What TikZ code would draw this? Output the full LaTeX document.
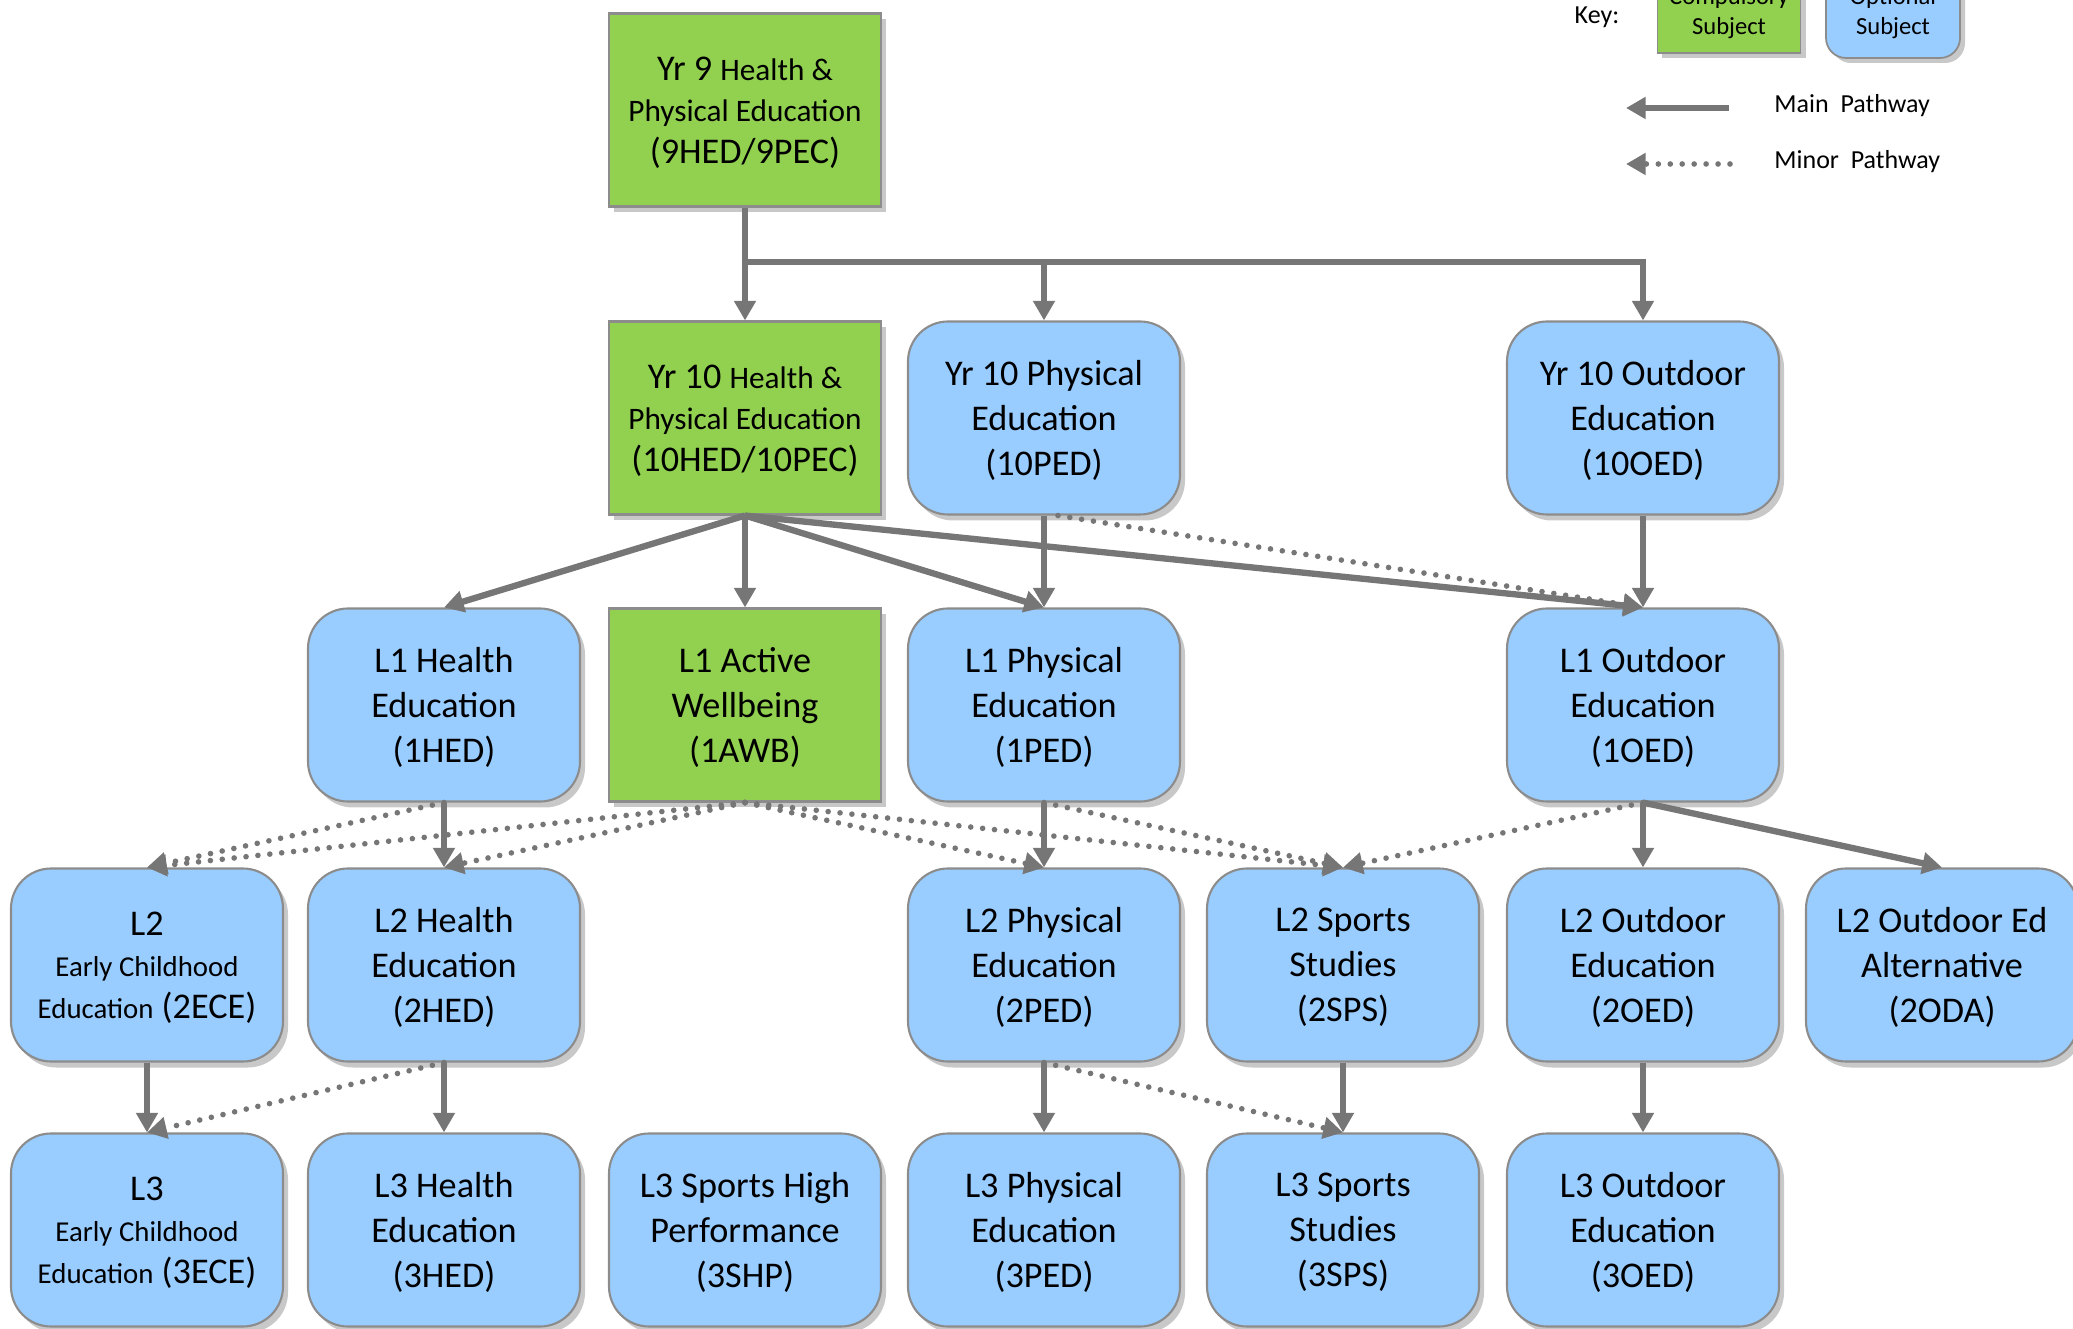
\documentclass[tikz,border=0pt]{standalone}
\usepackage{fontspec}
\setmainfont{Carlito}
\usepackage{xcolor}
\usepackage{tikz}
\usetikzlibrary{arrows.meta,shadows}
\definecolor{greenx}{HTML}{92D050}
\definecolor{bluex}{HTML}{99CCFF}
\definecolor{edgex}{HTML}{8C8C8C}
\definecolor{shadex}{HTML}{C8C8C8}
\definecolor{arrowx}{HTML}{767676}
\newcommand{\smtxt}{\fontsize{8.9}{11.8}\selectfont}
\newcommand{\ecetxt}{\fontsize{8.2}{11.8}\selectfont}
\tikzset{
  subj/.style={draw=edgex,line width=0.6pt,minimum width=2.72cm,minimum height=1.93cm,align=center,inner sep=2pt,
    font=\fontsize{10.3}{12.8}\selectfont,text depth=0pt,
    drop shadow={shadow xshift=0.05cm,shadow yshift=-0.06cm,fill=shadex,opacity=1}},
  comp/.style={subj,fill=greenx},
  opt/.style={subj,fill=bluex,rounded corners=0.4cm},
  tight/.style={font=\fontsize{10.3}{11.8}\selectfont},
  arr/.style={-{Triangle[length=5.6pt,width=6pt]}},
  mainpath/.style={arr,draw=arrowx,line width=1.8pt},
  minorpath/.style={arr,draw=arrowx,line width=1.6pt,line cap=round,dash pattern=on 0pt off 3.4pt}
}

\begin{document}
\begin{tikzpicture}
\useasboundingbox (0,0) rectangle (20.73,-13.29);
% key
\node[font=\fontsize{7.4}{9}\selectfont] (key) at (15.97,-0.17) {Key:};
\node[draw=edgex,fill=greenx,line width=0.5pt,minimum width=1.4cm,minimum height=0.8cm,align=center,
  font=\fontsize{7}{8.5}\selectfont,drop shadow={shadow xshift=0.05cm,shadow yshift=-0.05cm,fill=shadex,opacity=1}]
  (kc) at (17.29,-0.13) {Compulsory\\Subject};
\node[draw=edgex,fill=bluex,line width=0.5pt,rounded corners=0.2cm,minimum width=1.34cm,minimum height=0.9cm,align=center,
  font=\fontsize{7}{8.5}\selectfont,drop shadow={shadow xshift=0.05cm,shadow yshift=-0.05cm,fill=shadex,opacity=1}]
  (ko) at (18.93,-0.13) {Optional\\Subject};
\coordinate (ma) at (17.29,-1.08);
\coordinate (mb) at (16.26,-1.08);
\coordinate (na) at (17.30,-1.64);
\coordinate (nb) at (16.26,-1.64);
\draw[mainpath] (ma) -- (mb);
\draw[minorpath] (na) -- (nb);
\node[anchor=west,font=\fontsize{7.4}{9}\selectfont] (mt) at (17.62,-1.06) {Main~ Pathway};
\node[anchor=west,font=\fontsize{7.4}{9}\selectfont] (nt) at (17.62,-1.62) {Minor~ Pathway};

% year 9 and 10
\node[comp,tight] (y9) at (7.45,-1.10) {Yr 9 {\smtxt Health \&}\\{\smtxt Physical Education}\\(9HED/9PEC)};
\node[comp,tight] (y10h) at (7.45,-4.18) {Yr 10 {\smtxt Health \&}\\{\smtxt Physical Education}\\(10HED/10PEC)};
\node[opt] (y10p) at (10.44,-4.18) {Yr 10 Physical\\Education\\(10PED)};
\node[opt] (y10o) at (16.43,-4.18) {Yr 10 Outdoor\\Education\\(10OED)};

% level 1
\node[opt] (l1h) at (4.44,-7.05) {L1 Health\\Education\\(1HED)};
\node[comp] (l1a) at (7.45,-7.05) {L1 Active\\Wellbeing\\(1AWB)};
\node[opt] (l1p) at (10.44,-7.05) {L1 Physical\\Education\\(1PED)};
\node[opt] (l1o) at (16.43,-7.05) {L1 Outdoor\\Education\\(1OED)};

% level 2
\node[opt,tight] (l2e) at (1.47,-9.65) {L2\\{\ecetxt Early Childhood}\\{\ecetxt Education} (2ECE)};
\node[opt] (l2h) at (4.44,-9.65) {L2 Health\\Education\\(2HED)};
\node[opt] (l2p) at (10.44,-9.65) {L2 Physical\\Education\\(2PED)};
\node[opt] (l2s) at (13.43,-9.65) {L2 Sports\\Studies\\(2SPS)};
\node[opt] (l2o) at (16.43,-9.65) {L2 Outdoor\\Education\\(2OED)};
\node[opt] (l2d) at (19.42,-9.65) {L2 Outdoor Ed\\Alternative\\(2ODA)};

% level 3
\node[opt,tight] (l3e) at (1.47,-12.30) {L3\\{\ecetxt Early Childhood}\\{\ecetxt Education} (3ECE)};
\node[opt] (l3h) at (4.44,-12.30) {L3 Health\\Education\\(3HED)};
\node[opt] (l3x) at (7.45,-12.30) {L3 Sports High\\Performance\\(3SHP)};
\node[opt] (l3p) at (10.44,-12.30) {L3 Physical\\Education\\(3PED)};
\node[opt] (l3s) at (13.43,-12.30) {L3 Sports\\Studies\\(3SPS)};
\node[opt] (l3o) at (16.43,-12.30) {L3 Outdoor\\Education\\(3OED)};

% pathways
\coordinate (bus) at (7.45,-2.62);
\draw[mainpath] (y9.south) -- (y10h.north);
\draw[mainpath] (bus) -| (y10p.north);
\draw[mainpath] (bus) -| (y10o.north);

\draw[mainpath] (y10h.south) -- (l1h.north);
\draw[mainpath] (y10h.south) -- (l1a.north);
\draw[mainpath] (y10h.south) -- (l1p.north);
\draw[mainpath] (y10h.south) -- (l1o.north);
\draw[mainpath] (y10p.south) -- (l1p.north);
\draw[minorpath] ([xshift=0.14cm]y10p.south) -- (l1o.north);
\draw[mainpath] (y10o.south) -- (l1o.north);

\draw[minorpath] (l1h.south) -- (l2e.north);
\draw[mainpath] (l1h.south) -- (l2h.north);
\draw[minorpath] (l1a.south) -- (l2e.north);
\draw[minorpath] (l1a.south) -- (l2h.north);
\draw[minorpath] (l1a.south) -- (l2p.north);
\draw[minorpath] (l1a.south) -- (l2s.north);
\draw[mainpath] (l1p.south) -- (l2p.north);
\draw[minorpath] (l1p.south) -- (l2s.north);
\draw[minorpath] (l1o.south) -- (l2s.north);
\draw[mainpath] (l1o.south) -- (l2o.north);
\draw[mainpath] (l1o.south) -- (l2d.north);

\draw[mainpath] (l2e.south) -- (l3e.north);
\draw[mainpath] (l2h.south) -- (l3h.north);
\draw[minorpath] (l2h.south) -- (l3e.north);
\draw[mainpath] (l2p.south) -- (l3p.north);
\draw[minorpath] (l2p.south) -- (l3s.north);
\draw[mainpath] (l2s.south) -- (l3s.north);
\draw[mainpath] (l2o.south) -- (l3o.north);
\end{tikzpicture}
\end{document}
